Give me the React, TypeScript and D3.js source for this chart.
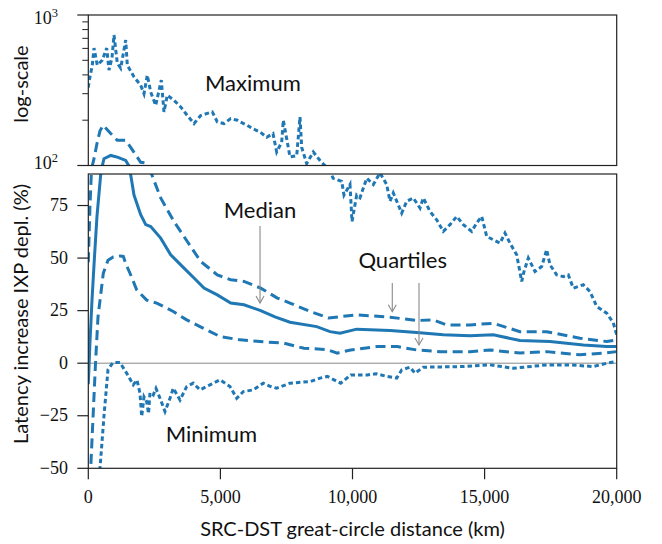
import * as d3 from 'd3';

// distance (km) and latency increase (%)
const maxKm = [0, 26, 151, 216, 341, 530, 696, 783, 897, 973, 1098, 1226, 1416, 1476, 1730, 1983, 2108, 2233, 2362, 2551, 2763, 2865, 2990, 3244, 3497, 3747, 4001, 4254, 4504, 4693, 4883, 5136, 5390, 5640, 5742, 6018, 6120, 6207, 6499, 6752, 6991, 7131, 7320, 7381, 7634, 7888, 8013, 8077, 8266, 8516, 8770, 9023, 9262, 9591, 9678, 9905, 9981, 10159, 10284, 10537, 10787, 11041, 11294, 11419, 11544, 11862, 12051, 12301, 12555, 12680, 12933, 13187, 13437, 13690, 13944, 14194, 14512, 14701, 14890, 15080, 15329, 15583, 15772, 15961, 16215, 16404, 16491, 16654, 16907, 17161, 17350, 17475, 17729, 17979, 18168, 18357, 18736, 18989, 19243, 19622, 19871, 20000];
const maxVal = [330, 359, 464, 603, 464, 501, 603, 430, 520, 736, 478, 443, 681, 464, 388, 341, 300, 398, 308, 251, 369, 227, 293, 271, 245, 215, 190, 215, 222, 227, 195, 190, 205, 200, 195, 185, 180, 176, 167, 154, 163, 123, 143, 200, 114, 116, 210, 132, 103, 123, 108, 97, 88, 86.5, 80, 85, 67.4, 80, 78.7, 88, 85, 90.5, 85, 77, 81, 71.4, 77, 78.6, 73.8, 78.6, 72.2, 68.2, 62.7, 65.9, 69.8, 65.9, 62.7, 66.7, 69.8, 60.3, 58.7, 57.1, 61.9, 57.1, 51.6, 38.9, 43.6, 50, 43.6, 46, 54, 46.8, 42, 41.2, 42, 35.7, 37.3, 34.1, 27, 23.8, 19.2, 13.5];

const q3Km = [0, 64, 140, 216, 329, 443, 568, 848, 1098, 1416, 1605, 1983, 2146, 2297, 2362, 2740, 3244, 3747, 4254, 4883, 5390, 5893, 6525, 7154, 7634, 8391, 9100, 10159, 11419, 12430, 13058, 13565, 14447, 15329, 16340, 17350, 18611, 19622, 20000];
const q3Val = [48, 75, 98, 111, 140, 170, 185, 163, 147, 147, 132, 105, 104, 96, 91, 78.6, 67.4, 57.9, 48.4, 42, 39.7, 38.9, 35.7, 31, 28.6, 24.6, 21.5, 23, 21.9, 20.3, 20.6, 18.2, 18.2, 19, 15, 15, 11.9, 10.3, 11.1];

const medKm = [0, 64, 140, 216, 329, 469, 594, 848, 1098, 1416, 1540, 1600, 1730, 1983, 2173, 2362, 2740, 3119, 3622, 4001, 4379, 4883, 5390, 5893, 6525, 7066, 7634, 8645, 9148, 9527, 10159, 11419, 12430, 13437, 14447, 15329, 16340, 17475, 18736, 19622, 20000];
const medVal = [-10, 10, 30, 46.8, 70, 89.7, 111, 116.6, 113.6, 108, 99, 90, 80, 70.6, 65.9, 65, 59.5, 51.6, 45.2, 40.5, 35.7, 32.5, 28.6, 27.8, 25, 22, 19.5, 17.4, 15, 14.3, 16.2, 15.5, 14.6, 13.5, 13, 13.5, 10.8, 10.3, 8.7, 7.9, 7.9];

const q1Km = [0, 91, 273, 367, 568, 746, 946, 1200, 1325, 1427, 1578, 1832, 2210, 2589, 3217, 3724, 4228, 4985, 5742, 6499, 7407, 8164, 9023, 9425, 9932, 10939, 11696, 12430, 13312, 14447, 15204, 16340, 17350, 18611, 19493, 20000];
const q1Val = [-70, -50, 0, 22, 42.8, 49, 50.5, 51, 50.8, 47, 42.8, 34.9, 30, 28.6, 24.6, 20.6, 17.4, 12.7, 11.1, 10.3, 9.5, 7.1, 6.5, 4.8, 6.3, 7.9, 7.9, 6.3, 5.5, 5.5, 6.3, 4.8, 5.5, 4, 4.8, 5.5];

const minKm = [0, 367, 443, 594, 746, 935, 1200, 1453, 1703, 1843, 1957, 2021, 2108, 2210, 2279, 2335, 2460, 2562, 2714, 2903, 3092, 3217, 3471, 3724, 3974, 4228, 4606, 4985, 5363, 5617, 5867, 6245, 6624, 6904, 7131, 7634, 8418, 8770, 9046, 9553, 9932, 10560, 10890, 11294, 11673, 11862, 12176, 12365, 12680, 14194, 15204, 16087, 17350, 18233, 19114, 19622, 20000];
const minVal = [-90, -60, -50, -25, -3, 0.3, 0.3, -4.8, -10.3, -8, -14.3, -25.4, -16, -18.3, -24, -14, -15.1, -12, -16.7, -23, -16.7, -11.9, -17.5, -11.1, -9.5, -12.7, -10.3, -7.9, -11.1, -16.7, -13.5, -12.7, -9.5, -11.1, -11.9, -9.5, -8.7, -7.1, -6.3, -9.5, -5.6, -5.6, -5, -6.3, -7.1, -3.2, -1.9, -4.8, -1.9, -1.6, -0.8, -2.4, -0.8, -0.8, -1.6, 0, 0.8];

const xTicks = [0, 5000, 10000, 15000, 20000];
const linTicks = [-50, -25, 0, 25, 50, 75];
const logMajor = [100, 1000];
const logMinor = [200, 300, 400, 500, 600, 700, 800, 900];

const W = 662;
const H = 544;
const left = 88.3;
const right = 616.7;
const topY0 = 15;
const topY1 = 165.5;
const botY0 = 174;
const botY1 = 468.3;
const blue = '#1f77b4';
const serif = "'Liberation Serif', serif";
const sans = "Lato, sans-serif";

const x = d3.scaleLinear().domain([0, 20000]).range([left, right]);
const yTop = d3.scaleLog().domain([100, 1000]).range([topY1, topY0]);
const yBot = d3.scaleLinear().domain([-50, 90]).range([botY1, botY0]);

const zip = (km: number[], v: number[]) => km.map((k, i) => [k, v[i]] as [number, number]);

const series = [
  { pts: zip(maxKm, maxVal), dash: '4.5,3', top: true },
  { pts: zip(q3Km, q3Val), dash: '10,5.5', top: true },
  { pts: zip(medKm, medVal), dash: undefined, top: true },
  { pts: zip(q1Km, q1Val), dash: '10,5.5', top: false },
  { pts: zip(minKm, minVal), dash: '4.5,3', top: false },
];

const lineTop = d3
  .line<[number, number]>()
  .defined((d) => d[1] > 0)
  .x((d) => x(d[0]))
  .y((d) => yTop(d[1]));
const lineBot = d3
  .line<[number, number]>()
  .x((d) => x(d[0]))
  .y((d) => yBot(d[1]));

const fmtX = d3.format(',');
const fmtY = d3.format('d');

const Arrow = ({ km, from, to }: { km: number; from: number; to: number }) => {
  const ax = x(km);
  const y0 = yBot(from);
  const y1 = yBot(to);
  return (
    <g stroke="#8a8a8a" strokeWidth={1.1} fill="none">
      <line x1={ax} x2={ax} y1={y0} y2={y1} />
      <path d={`M${ax - 4},${y1 - 7}L${ax},${y1}L${ax + 4},${y1 - 7}`} />
    </g>
  );
};

export default function App() {
  return (
    <svg width={W} height={H} style={{ position: 'absolute', left: 0, top: 0, background: '#fff' }}>
      <defs>
        <clipPath id="clipTop">
          <rect x={left} y={topY0} width={right - left} height={topY1 - topY0} />
        </clipPath>
        <clipPath id="clipBot">
          <rect x={left} y={botY0} width={right - left} height={botY1 - botY0} />
        </clipPath>
      </defs>

      {/* zero line */}
      <line x1={left} x2={right} y1={yBot(0)} y2={yBot(0)} stroke="#888" strokeWidth={1} />

      <g clipPath="url(#clipTop)" fill="none" stroke={blue} strokeWidth={3}>
        {series
          .filter((s) => s.top)
          .map((s, i) => (
            <path key={i} d={lineTop(s.pts) ?? ''} strokeDasharray={s.dash} />
          ))}
      </g>
      <g clipPath="url(#clipBot)" fill="none" stroke={blue} strokeWidth={3}>
        {series.map((s, i) => (
          <path key={i} d={lineBot(s.pts) ?? ''} strokeDasharray={s.dash} />
        ))}
      </g>

      {/* frames */}
      <rect x={left} y={topY0} width={right - left} height={topY1 - topY0} fill="none" stroke="#222" strokeWidth={1.2} />
      <rect x={left} y={botY0} width={right - left} height={botY1 - botY0} fill="none" stroke="#222" strokeWidth={1.2} />

      {/* top y axis (log) */}
      {logMajor.map((t) => (
        <line key={t} x1={left - 11} x2={left} y1={yTop(t)} y2={yTop(t)} stroke="#222" strokeWidth={1.2} />
      ))}
      {logMinor.map((t) => (
        <line key={t} x1={left - 6} x2={left} y1={yTop(t)} y2={yTop(t)} stroke="#222" strokeWidth={1} />
      ))}
      {logMajor.map((t) => (
        <text key={t} x={58} y={yTop(t) + (t === 1000 ? 8.5 : 3)} textAnchor="end" fontFamily={serif} fontSize={18} fill="#111">
          10
          <tspan dx={0} dy={-7} fontSize={12.5}>
            {Math.round(Math.log10(t))}
          </tspan>
        </text>
      ))}

      {/* bottom y axis */}
      {linTicks.map((t) => (
        <g key={t}>
          <line x1={left - 11} x2={left} y1={yBot(t)} y2={yBot(t)} stroke="#222" strokeWidth={1.2} />
          <text x={68} y={yBot(t) + 5.5} textAnchor="end" fontFamily={serif} fontSize={18} fill="#111">
            {fmtY(t)}
          </text>
        </g>
      ))}

      {/* x axis */}
      {xTicks.map((t) => (
        <g key={t}>
          <line x1={x(t)} x2={x(t)} y1={botY1} y2={botY1 + 11} stroke="#222" strokeWidth={1.2} />
          <text x={x(t)} y={503} textAnchor="middle" fontFamily={serif} fontSize={18} fill="#111">
            {fmtX(t)}
          </text>
        </g>
      ))}

      {/* axis titles */}
      <text x={(left + right) / 2} y={536} textAnchor="middle" fontFamily={sans} fontSize={20} fill="#111">
        SRC-DST great-circle distance (km)
      </text>
      <text transform={`translate(28,${314}) rotate(-90)`} textAnchor="middle" fontFamily={sans} fontSize={20} fill="#111">
        Latency increase IXP depl. (%)
      </text>
      <text transform={`translate(28,${84}) rotate(-90)`} textAnchor="middle" fontFamily={sans} fontSize={20} fill="#111">
        log-scale
      </text>

      {/* annotations */}
      <g fontFamily={sans} fontSize={22} fill="#111" textAnchor="middle">
        <text x={x(6230)} y={91}>Maximum</text>
        <text x={x(6500)} y={218}>Median</text>
        <text x={x(11900)} y={268}>Quartiles</text>
        <text x={x(4660)} y={442}>Minimum</text>
      </g>
      <Arrow km={6500} from={65.3} to={28.6} />
      <Arrow km={11506} from={38.2} to={24.5} />
      <Arrow km={12517} from={38.2} to={8.7} />
    </svg>
  );
}
